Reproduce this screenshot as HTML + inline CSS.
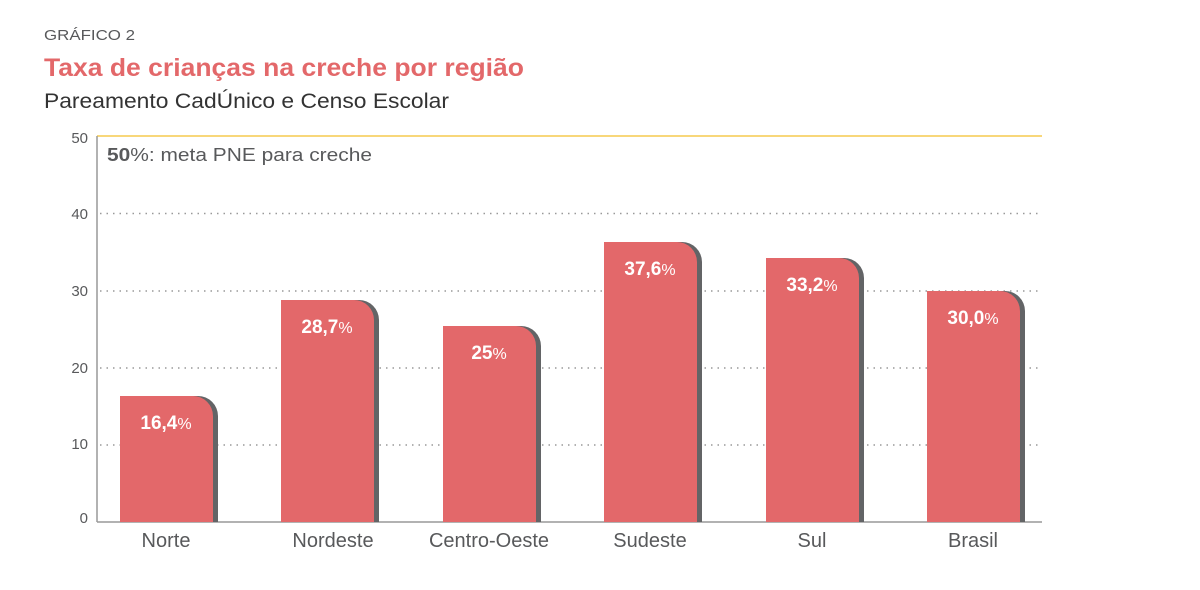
<!DOCTYPE html>
<html><head><meta charset="utf-8"><style>
body{margin:0;background:#fff;width:1200px;height:585px;overflow:hidden;font-family:"Liberation Sans",sans-serif}
</style></head><body>
<svg width="1200" height="585" xmlns="http://www.w3.org/2000/svg" font-family="Liberation Sans, sans-serif">
<text x="44" y="40" font-size="15" fill="#58595b" textLength="91" lengthAdjust="spacingAndGlyphs">GRÁFICO 2</text>
<text x="44" y="76" font-size="25" font-weight="bold" fill="#e3686a" textLength="480" lengthAdjust="spacingAndGlyphs">Taxa de crianças na creche por região</text>
<text x="44" y="108" font-size="21" fill="#333" textLength="405" lengthAdjust="spacingAndGlyphs">Pareamento CadÚnico e Censo Escolar</text>
<g stroke="#999" stroke-width="1.5" stroke-dasharray="1.5,5">
<line x1="100" y1="213.5" x2="1042" y2="213.5"/>
<line x1="100" y1="291" x2="1042" y2="291"/>
<line x1="100" y1="368" x2="1042" y2="368"/>
<line x1="100" y1="445" x2="1042" y2="445"/>
</g>
<line x1="97" y1="136" x2="1042" y2="136" stroke="#f8d77a" stroke-width="2"/>
<line x1="97" y1="136" x2="97" y2="522" stroke="#999" stroke-width="1.5"/>
<line x1="97" y1="522" x2="1042" y2="522" stroke="#999" stroke-width="1.5"/>
<g font-size="15" fill="#58595b" text-anchor="end">
<text x="88" y="143">50</text><text x="88" y="219">40</text><text x="88" y="296">30</text><text x="88" y="373">20</text><text x="88" y="449">10</text><text x="88" y="523">0</text>
</g>
<text x="107" y="161" font-size="18" fill="#58595b" textLength="265" lengthAdjust="spacingAndGlyphs"><tspan font-weight="bold">50</tspan>%: meta PNE para creche</text>
<g fill="#636466">
<path d="M125 396 H198 A20 20 0 0 1 218 416 V522 H125Z"/>
<path d="M286 300 H359 A20 20 0 0 1 379 320 V522 H286Z"/>
<path d="M448 326 H521 A20 20 0 0 1 541 346 V522 H448Z"/>
<path d="M609 242 H682 A20 20 0 0 1 702 262 V522 H609Z"/>
<path d="M771 258 H844 A20 20 0 0 1 864 278 V522 H771Z"/>
<path d="M932 291 H1005 A20 20 0 0 1 1025 311 V522 H932Z"/>
</g>
<g fill="#e3686a">
<path d="M120 396 H193 A20 20 0 0 1 213 416 V522 H120Z"/>
<path d="M281 300 H354 A20 20 0 0 1 374 320 V522 H281Z"/>
<path d="M443 326 H516 A20 20 0 0 1 536 346 V522 H443Z"/>
<path d="M604 242 H677 A20 20 0 0 1 697 262 V522 H604Z"/>
<path d="M766 258 H839 A20 20 0 0 1 859 278 V522 H766Z"/>
<path d="M927 291 H1000 A20 20 0 0 1 1020 311 V522 H927Z"/>
</g>
<g font-size="19" font-weight="bold" fill="#fff" text-anchor="middle">
<text x="166" y="429">16,4<tspan font-size="16" font-weight="normal">%</tspan></text>
<text x="327" y="333">28,7<tspan font-size="16" font-weight="normal">%</tspan></text>
<text x="489" y="359">25<tspan font-size="16" font-weight="normal">%</tspan></text>
<text x="650" y="275">37,6<tspan font-size="16" font-weight="normal">%</tspan></text>
<text x="812" y="291">33,2<tspan font-size="16" font-weight="normal">%</tspan></text>
<text x="973" y="324">30,0<tspan font-size="16" font-weight="normal">%</tspan></text>
</g>
<g font-size="20" fill="#58595b" text-anchor="middle">
<text x="166" y="547">Norte</text><text x="333" y="547">Nordeste</text><text x="489" y="547">Centro-Oeste</text><text x="650" y="547">Sudeste</text><text x="812" y="547">Sul</text><text x="973" y="547">Brasil</text>
</g>
</svg>
</body></html>
